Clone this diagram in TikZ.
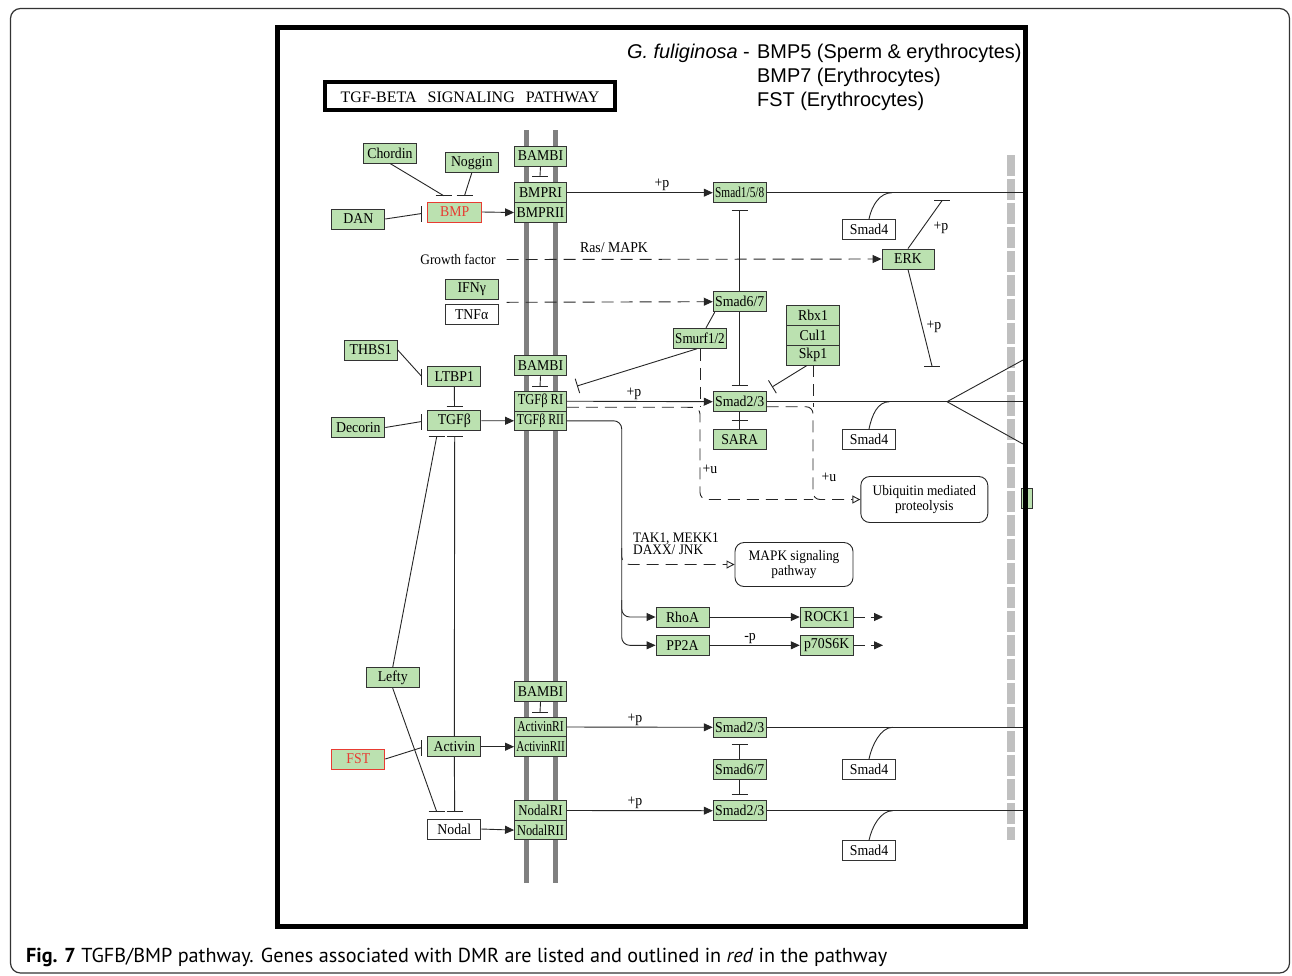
\documentclass[tikz,border=0pt]{standalone}
\usepackage{fontspec}
\usepackage{graphicx}
\setmainfont{Liberation Serif}
\newfontfamily\keggf[FakeStretch=0.92]{Liberation Serif}
\newfontfamily\arialf{Liberation Sans}
\newfontfamily\capf{PT Sans}
\usetikzlibrary{arrows.meta}
\definecolor{kgreen}{RGB}{187,225,176}
\definecolor{kred}{RGB}{232,60,50}
\definecolor{memb}{RGB}{128,128,128}
\definecolor{lgray}{RGB}{192,192,192}
\newcommand{\sq}[2]{\scalebox{#1}[1]{#2}}
\newcommand{\fs}[1]{\fontsize{#1}{#1}\selectfont}
\newcommand{\hbr}[1]{\draw[ln] ([xshift=-8pt]#1) -- ([xshift=8pt]#1);}
\newcommand{\vbr}[1]{\draw[ln] ([yshift=-8pt]#1) -- ([yshift=8pt]#1);}
\begin{document}
\begin{tikzpicture}[x=1pt,y=-1pt,
  g/.style={draw=black!80, fill=kgreen, line width=0.9pt, minimum width=53pt, minimum height=20pt, inner sep=0pt, font=\keggf\fs{15}},
  w/.style={g, fill=white},
  rd/.style={g, draw=kred, text=kred},
  rbox/.style={draw=black!85, line width=0.9pt, rounded corners=9pt, fill=white, align=center, inner sep=0pt, font=\keggf\fontsize{14.5}{13}\selectfont},
  ln/.style={line width=0.9pt, draw=black!85},
  ar/.style={ln, -{Triangle[length=9pt,width=8pt]}},
  oar/.style={ln, -{Triangle[open,length=8pt,width=8pt]}},
  dsh/.style={dash pattern=on 12pt off 7pt},
  tb/.style={ln, -{Bar[width=15pt]}},
  lab/.style={font=\keggf\fs{15}, inner sep=0pt},
]
\useasboundingbox (0,0) rectangle (1292,975);
\fill[white] (0,0) rectangle (1292,975);
\draw[line width=1.2pt, black!80, rounded corners=10pt] (10.5,8.5) rectangle (1289.5,973);

% membrane and right bar
\draw[memb, line width=5pt] (526,130) -- (526,883);
\draw[memb, line width=5pt] (555,130) -- (555,883);
\draw[lgray, line width=8pt, dash pattern=on 21pt off 3pt] (1011,155) -- (1011,840);
\draw[black!80, fill=kgreen, line width=0.9pt] (1021,488) rectangle (1032,508);

% title
\draw[line width=4pt] (325.3,82) rectangle (614.7,109.7);
\node[font=\fs{16}, inner sep=0pt] (title) at (470,97.5) {TGF-BETA\hspace{11pt}SIGNALING\hspace{11pt}PATHWAY};

% header
\node[anchor=base east, inner sep=0pt, font=\arialf\fs{19.9}] (sp) at (750,58.5) {\textit{G. fuliginosa} -};
\node[anchor=base west, inner sep=0pt, font=\arialf\fs{19.9}] (h1) at (757,58.5) {BMP5 (Sperm \& erythrocytes)};
\node[anchor=base west, inner sep=0pt, font=\arialf\fs{19.9}] (h2) at (757,82.5) {BMP7 (Erythrocytes)};
\node[anchor=base west, inner sep=0pt, font=\arialf\fs{19.9}] (h3) at (757,106.5) {FST (Erythrocytes)};

% nodes
\node[g] (chordin) at (390,153) {Chordin};
\node[g] (noggin) at (471.7,162.7) {Noggin};
\node[g, minimum width=52pt] (bambi1) at (540.5,156) {BAMBI};
\node[g, minimum width=52pt, minimum height=19.8pt] (bmpr1) at (540.5,192.7) {BMPRI};
\node[g, minimum width=52pt, minimum height=19.8pt] (bmpr2) at (540.5,212.5) {BMPRII};
\node[rd, minimum width=54pt] (bmp) at (454.7,212) {BMP};
\node[g] (dan) at (358.3,219) {DAN};
\node[g] (smad158) at (739.7,192.7) {\sq{0.82}{Smad1/5/8}};
\node[w] (smad4a) at (869,229.3) {Smad4};
\node[g, minimum width=52pt] (erk) at (908,259) {ERK};
\node[g] (ifng) at (471.7,289) {IFNγ};
\node[w] (tnfa) at (471.7,314.2) {TNFα};
\node[g] (smad67a) at (739.7,301.7) {Smad6/7};
\node[g] (smurf) at (700,338.3) {\sq{0.95}{Smurf1/2}};
\node[g] (rbx1) at (813,315) {Rbx1};
\node[g] (cul1) at (813,335) {Cul1};
\node[g] (skp1) at (813,355) {Skp1};
\node[g] (thbs1) at (370.8,350) {THBS1};
\node[g] (ltbp1) at (454.3,376.3) {LTBP1};
\node[g, minimum width=52pt] (bambi2) at (540.5,365.8) {BAMBI};
\node[g, minimum width=52pt, minimum height=19.6pt] (tgfbr1) at (540.5,401.2) {\sq{0.9}{TGFβ RI}};
\node[g, minimum width=52pt, minimum height=19.6pt] (tgfbr2) at (540.5,420.8) {\sq{0.86}{TGFβ RII}};
\node[g] (tgfb) at (454.3,420.7) {TGFβ};
\node[g] (decorin) at (358.3,427.5) {Decorin};
\node[g] (smad23a) at (739.7,401.7) {Smad2/3};
\node[g] (sara) at (739.7,439.3) {SARA};
\node[w] (smad4b) at (869,439.3) {Smad4};
\node[rbox, minimum width=127pt, minimum height=46pt] (ubiq) at (924.3,499.5) {Ubiquitin mediated\\proteolysis};
\node[rbox, minimum width=118pt, minimum height=44pt] (mapk) at (794,564.5) {MAPK signaling\\pathway};
\node[g] (rhoa) at (682.5,617) {RhoA};
\node[g] (pp2a) at (682.5,645.3) {PP2A};
\node[g] (rock1) at (826.7,617) {ROCK1};
\node[g] (p70) at (826.7,645.3) {p70S6K};
\node[g] (lefty) at (392.7,677.7) {Lefty};
\node[g, minimum width=52pt] (bambi3) at (540.5,691.7) {BAMBI};
\node[g, minimum width=52pt, minimum height=19.6pt] (actr1) at (540.5,727) {\sq{0.84}{ActivinRI}};
\node[g, minimum width=52pt, minimum height=19.6pt] (actr2) at (540.5,746.7) {\sq{0.81}{ActivinRII}};
\node[g] (activin) at (454.3,746.7) {Activin};
\node[rd] (fst) at (358.3,759) {FST};
\node[w] (nodal) at (454.3,829) {Nodal};
\node[g, minimum width=52pt, minimum height=19.6pt] (nodr1) at (540.5,810.5) {\sq{0.93}{NodalRI}};
\node[g, minimum width=52pt, minimum height=19.6pt] (nodr2) at (540.5,830.1) {\sq{0.9}{NodalRII}};
\node[g] (smad23b) at (739.7,727.3) {Smad2/3};
\node[g] (smad67b) at (739.7,769.3) {Smad6/7};
\node[g] (smad23c) at (739.7,810.7) {Smad2/3};
\node[w] (smad4c) at (869,769.3) {Smad4};
\node[w] (smad4d) at (869,850.7) {Smad4};

% free texts
\node[font=\keggf\fs{14.5}, inner sep=0pt] (gf) at (458,259.5) {Growth factor};
\node[lab] (ras) at (614,248) {Ras/ MAPK};
\node[font=\keggf\fs{14.5}, inner sep=0pt, anchor=base west] (tak1) at (633,542.5) {TAK1, MEKK1};
\node[font=\keggf\fs{14.5}, inner sep=0pt, anchor=base west] (daxx) at (633,554.5) {DAXX/ JNK};
\node[lab] (p1) at (662,185) {+p};
\node[lab] (p2) at (634,394) {+p};
\node[lab] (p3) at (635,720) {+p};
\node[lab] (p4) at (635,803) {+p};
\node[lab] (p5) at (941,228) {+p};
\node[lab] (p6) at (934,327) {+p};
\node[lab] (u1l) at (710,469) {+u};
\node[lab] (u2l) at (829,477) {+u};
\node[lab] (mp) at (750,639) {-p};

% coordinates
\coordinate (bChor) at (443.7,195.7);
\coordinate (bNog) at (464.5,195.7);
\coordinate (bDan) at (421.7,213.5);
\coordinate (bBam1) at (540,176);
\coordinate (bERK1) at (942,200.7);
\coordinate (bERK2) at (932,366);
\coordinate (b158) at (739.7,210);
\coordinate (b23a) at (739.7,385.7);
\coordinate (bSara) at (739.7,420);
\coordinate (bSmurf) at (577,386);
\coordinate (bSkp) at (772,387);
\coordinate (bThb) at (421.7,376.5);
\coordinate (bLtb) at (454.5,406);
\coordinate (bDec) at (421.7,421.5);
\coordinate (bBam2) at (540,386.7);
\coordinate (bLefU) at (436.7,436.7);
\coordinate (bActU) at (454.7,436.7);
\coordinate (bBam3) at (540,712.3);
\coordinate (bFst) at (421.7,747.5);
\coordinate (bLefD) at (436.7,811.7);
\coordinate (bActD) at (454.7,811.7);
\coordinate (b67u) at (739.7,744.3);
\coordinate (b67d) at (739.7,794);
\coordinate (gfs) at (506.7,259.5);
\coordinate (ifs) at (506.7,302.3);
\coordinate (r1) at (1023,192.7);
\coordinate (r2) at (1023,401.7);
\coordinate (r2u) at (1023,360);
\coordinate (r2d) at (1023,444);
\coordinate (apex) at (947,401.7);
\coordinate (r3) at (1023,727.3);
\coordinate (r4) at (1023,810.7);
\coordinate (m1) at (892,192.7);
\coordinate (m2) at (889.5,401.7);
\coordinate (m3) at (892.7,727.3);
\coordinate (m4) at (892.7,810.7);
\coordinate (ua) at (700,407.3);
\coordinate (ub) at (700,499.5);
\coordinate (uc) at (813,499.5);
\coordinate (ud) at (813,406.7);
\coordinate (tv1) at (621.7,420.8);
\coordinate (tv2) at (621.7,645.3);
\coordinate (tv3) at (621.7,600);
\coordinate (tv4) at (621.7,617);
\coordinate (tv5) at (621.7,548);
\coordinate (tv6) at (621.7,564.5);
\coordinate (rk) at (883,617);
\coordinate (pk) at (883,645.3);

% BMP branch
\draw[ln] (chordin.south) -- (bChor); \hbr{bChor}
\draw[ln] (noggin.south) -- (bNog); \hbr{bNog}
\draw[ln] (dan.east) -- (bDan); \vbr{bDan}
\draw[ln] (bambi1.south) -- (bBam1); \hbr{bBam1}
\draw[ar] (bmp.east) -- (bmpr2.west);
\draw[ar] (bmpr1.east) -- (smad158.west);
\draw[ln] (smad158.east) -- (r1);
\draw[ln] (smad4a.north) .. controls +(3,-14) and +(-12,0) .. (m1);
\draw[ln] (erk.north) -- (bERK1); \hbr{bERK1}
\draw[ln] (erk.south) -- (bERK2); \hbr{bERK2}
\draw[ar, dsh] (gfs) -- (erk.west);
\draw[ar, dsh] (ifs) -- (smad67a.west);
\draw[ln] (smad67a.north) -- (b158); \hbr{b158}
\draw[ln] (smad67a.south) -- (b23a); \hbr{b23a}
\draw[ln] ([xshift=6pt]smurf.north) -- ([xshift=2pt]smad67a.south west);
\draw[tb] ([xshift=-3pt]smurf.south) -- (bSmurf);
\draw[tb] ([xshift=-6pt]skp1.south) -- (bSkp);

% TGF-beta branch
\draw[ln] (thbs1.east) -- (bThb); \vbr{bThb}
\draw[ln] (ltbp1.south) -- (bLtb); \hbr{bLtb}
\draw[ln] (decorin.east) -- (bDec); \vbr{bDec}
\draw[ln] (bambi2.south) -- (bBam2); \hbr{bBam2}
\draw[ar] (tgfb.east) -- (tgfbr2.west);
\draw[ar] (tgfbr1.east) -- (smad23a.west);
\draw[ln] (smad23a.east) -- (r2);
\draw[ln] (apex) -- (r2u);
\draw[ln] (apex) -- (r2d);
\draw[ln] (smad4b.north) .. controls +(3,-14) and +(-12,0) .. (m2);
\draw[ln] (sara.north) -- (smad23a.south); \hbr{bSara}
\draw[ln, dsh, rounded corners=7pt] ([yshift=-6pt]tgfbr1.east) -- (ua) -- (ub) -- (uc);
\draw[ln, dsh] (smurf.south) -- (ua);
\draw[oar, dsh, rounded corners=7pt] ([yshift=-5pt]smad23a.east) -- (ud) -- (uc) -- (ubiq.west);
\draw[ln, dsh] (skp1.south) -- (ud);
\draw[ar, rounded corners=8pt] (tgfbr2.east) -- (tv1) -- (tv2) -- (pp2a.west);
\draw[ar, rounded corners=8pt] (tv3) -- (tv4) -- (rhoa.west);
\draw[oar, dsh, rounded corners=8pt] (tv5) -- (tv6) -- (mapk.west);
\draw[ar] (rhoa.east) -- (rock1.west);
\draw[ar] (pp2a.east) -- (p70.west);
\draw[ar, dash pattern=on 11pt off 6pt] (rock1.east) -- (rk);
\draw[ar, dash pattern=on 11pt off 6pt] (p70.east) -- (pk);

% Activin / Nodal
\draw[ln] (lefty.north) -- (bLefU); \hbr{bLefU}
\draw[ln] (lefty.south) -- (bLefD); \hbr{bLefD}
\draw[ln] (activin.north) -- (bActU); \hbr{bActU}
\draw[ln] (activin.south) -- (bActD); \hbr{bActD}
\draw[ln] (fst.east) -- (bFst); \vbr{bFst}
\draw[ln] (bambi3.south) -- (bBam3); \hbr{bBam3}
\draw[ar] (activin.east) -- (actr2.west);
\draw[ar] (nodal.east) -- (nodr2.west);
\draw[ar] (actr1.east) -- (smad23b.west);
\draw[ar] (nodr1.east) -- (smad23c.west);
\draw[ln] (smad23b.east) -- (r3);
\draw[ln] (smad23c.east) -- (r4);
\draw[ln] (smad67b.north) -- (b67u); \hbr{b67u}
\draw[ln] (smad67b.south) -- (b67d); \hbr{b67d}
\draw[ln] (smad4c.north) .. controls +(3,-14) and +(-12,0) .. (m3);
\draw[ln] (smad4d.north) .. controls +(3,-14) and +(-12,0) .. (m4);

% frame
\draw[line width=5pt] (277.5,27.5) rectangle (1025.5,926.5);

% caption
\node[anchor=base west, inner sep=0pt, font=\capf\fs{20.2}] (cap) at (26,962) {\textbf{Fig. 7} TGFB/BMP pathway. Genes associated with DMR are listed and outlined in \textit{red} in the pathway};
\end{tikzpicture}
\end{document}
